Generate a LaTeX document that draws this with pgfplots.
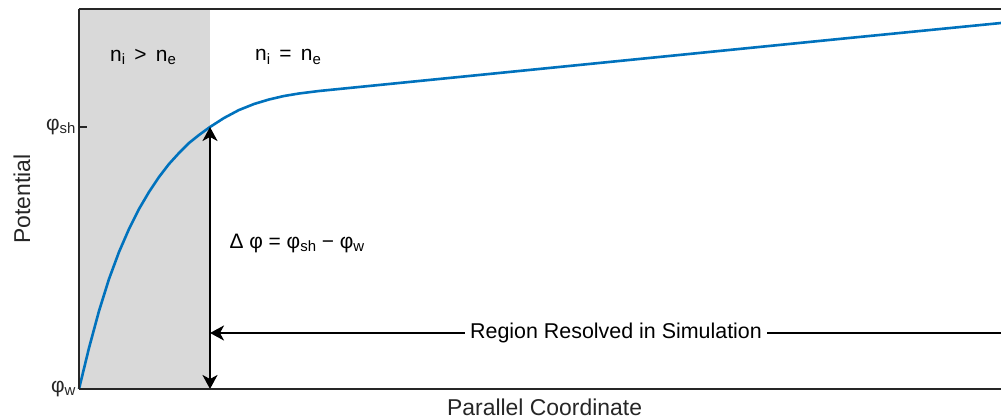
\documentclass[border=0pt]{standalone}
\usepackage{pgfplots}
\pgfplotsset{compat=1.18}
\usepackage{fontspec}
\setmainfont{Liberation Sans}
\usetikzlibrary{arrows.meta}
\definecolor{mblue}{RGB}{0,114,189}
\definecolor{shade}{RGB}{217,217,217}
\definecolor{axcol}{RGB}{38,38,38}
\newcommand\sub[1]{\raisebox{-0.3ex}{\fontsize{15}{15}\selectfont #1}}
\begin{document}
\begin{tikzpicture}
\begin{axis}[
  scale only axis, width=922bp, height=380bp,
  xmin=0, xmax=922, ymin=0, ymax=380,
  axis x line*=box, axis y line*=left,
  every outer y axis line/.append style={-}, every inner y axis line/.append style={-},
  every outer x axis line/.append style={-}, every inner x axis line/.append style={-},
  axis line style={axcol, line width=1.2bp},
  xtick=\empty, ytick={0,262}, yticklabels={φ\sub{w}, φ\sub{sh}},
  tick align=inside, major tick length=8bp,
  ytick style={axcol, line width=1.2bp},
  tick label style={font=\fontsize{21}{25}\selectfont, text=axcol},
  label style={font=\fontsize{23}{27}\selectfont, text=axcol},
  xlabel={Parallel Coordinate}, ylabel={Potential},
  xlabel style={at={(axis description cs:0.505,-0.047)}, anchor=center},
  ylabel style={at={(axis description cs:-0.062,0.5)}, anchor=center},
  clip=false,
  axis on top,
]
\addplot[fill=shade, draw=none] coordinates {(0,380) (131,380)} \closedcycle;
\addplot[mblue, line width=2.6bp, line join=round] coordinates {
(0,0) (10,41) (20,78) (30,110) (40,137) (50,160) (60,180) (70,197) (80,212)
(90,225) (100,236) (110,246) (120,254) (131,262) (145,271) (160,279) (175,285)
(190,289.5) (205,293) (220,295.5) (240,298) (260,300) (290,303) (320,306)
(370,311) (470,321) (570,331) (670,341) (770,351) (922,366)};
\draw[black, line width=2bp, {Stealth[length=14bp,width=15bp,inset=4bp]}-{Stealth[length=14bp,width=15bp,inset=4bp]}]
  (axis cs:131,0) -- (axis cs:131,262);
\draw[black, line width=2bp, {Stealth[length=14bp,width=15bp,inset=4bp]}-]
  (axis cs:131,56) -- (axis cs:922,56);
\node[fill=white, inner xsep=5bp, font=\fontsize{21.5}{25}\selectfont] at (axis cs:537,56) {Region Resolved in Simulation};
\node[anchor=west, font=\fontsize{21}{25}\selectfont] at (axis cs:147,146) {Δ φ =\ φ\sub{sh} −\ φ\sub{w}};
\node[font=\fontsize{21}{25}\selectfont] at (axis cs:64,332) {n\sub{i}\ \,>\ \,n\sub{e}};
\node[font=\fontsize{21}{25}\selectfont] at (axis cs:209,332) {n\sub{i}\ \,=\ \,n\sub{e}};
\coordinate (bbll) at (axis cs:-79,-30);
\coordinate (bbur) at (axis cs:922,389);
\end{axis}
\pgfresetboundingbox
\useasboundingbox (bbll) rectangle (bbur);
\end{tikzpicture}
\end{document}
